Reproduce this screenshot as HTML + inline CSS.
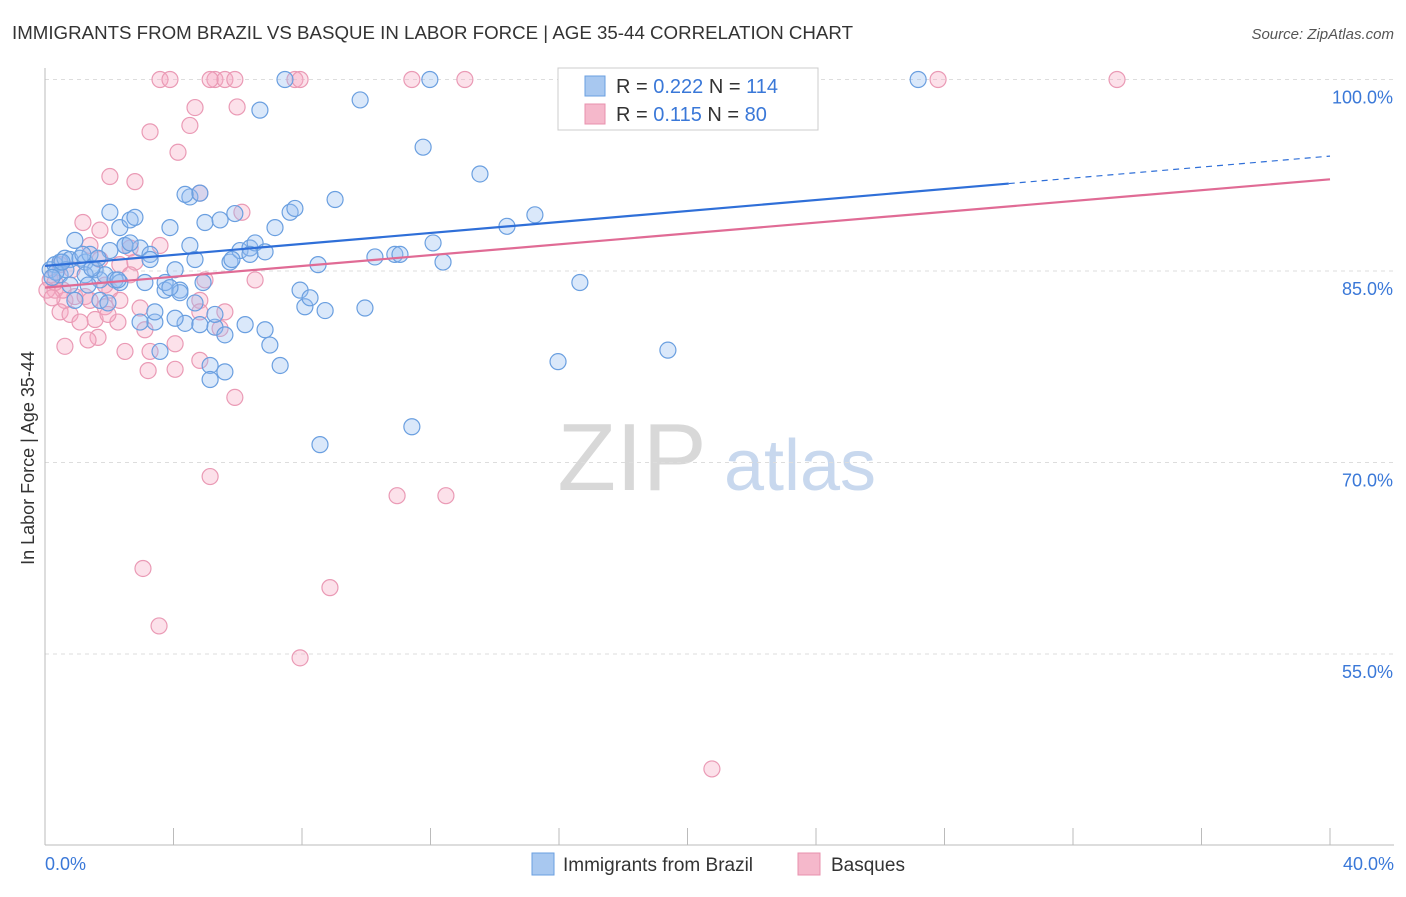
<!DOCTYPE html>
<html><head><meta charset="utf-8"><style>
body{margin:0;background:#fff;font-family:"Liberation Sans",sans-serif;}
svg text{font-family:"Liberation Sans",sans-serif;}
</style></head><body>
<svg id="chart" width="1406" height="892">
<text x="12" y="39" font-size="18" fill="#333" textLength="841" lengthAdjust="spacingAndGlyphs">IMMIGRANTS FROM BRAZIL VS BASQUE IN LABOR FORCE | AGE 35-44 CORRELATION CHART</text>
<text x="1394" y="39" font-size="15" fill="#555" font-style="italic" text-anchor="end">Source: ZipAtlas.com</text>
<text x="34" y="458" font-size="18" fill="#333" transform="rotate(-90 34 458)" text-anchor="middle">In Labor Force | Age 35-44</text>
<g><text x="632" y="490" font-size="96" font-family="Liberation Serif" fill="#d8d8d8" text-anchor="middle">ZIP</text><text x="800" y="490" font-size="72" fill="#c8d8ee" text-anchor="middle">atlas</text></g>
<g id="grid"></g><g id="ticks"></g><g id="pts"></g><g id="trend"></g>
<g>
<rect x="558" y="68" width="260" height="62" fill="#fff" stroke="#ccc"/>
<rect x="585" y="76" width="20" height="20" fill="#a8c8f0" stroke="#6a9fe0"/>
<rect x="585" y="104" width="20" height="20" fill="#f5b8cb" stroke="#e890ae"/>
<text x="616" y="93" font-size="20" fill="#333">R = <tspan fill="#3a78d8">0.222</tspan>   N = <tspan fill="#3a78d8">114</tspan></text>
<text x="616" y="121" font-size="20" fill="#333">R =  <tspan fill="#3a78d8">0.115</tspan>   N =  <tspan fill="#3a78d8">80</tspan></text>
</g>
<g>
<rect x="532" y="853" width="22" height="22" fill="#a8c8f0" stroke="#6a9fe0"/>
<text x="563" y="871" font-size="19" fill="#333">Immigrants from Brazil</text>
<rect x="798" y="853" width="22" height="22" fill="#f5b8cb" stroke="#e890ae"/>
<text x="831" y="871" font-size="19" fill="#333">Basques</text>
</g>
</svg>
<script>
const yTicks=[100,85,70,55];
const xTickLabels=["0.0%","40.0%"];
const blueX=[0.16,0.31,0.47,0.62,0.78,0.93,1.09,1.25,1.40,1.56,1.71,1.87,2.02,2.18,2.33,2.49,2.65,2.80,2.96,3.27,3.42,3.58,3.74,3.89,4.05,4.20,4.36,4.51,4.51,4.67,4.82,4.98,5.14,5.14,5.29,5.45,5.60,5.76,5.91,6.07,6.23,6.38,6.54,6.69,6.85,7.00,6.85,7.16,7.32,7.47,7.63,7.78,7.94,8.09,8.25,8.50,8.56,8.72,9.03,9.81,9.96,10.27,10.89,11.05,11.42,11.77,11.98,12.08,12.39,13.54,14.38,15.25,15.97,16.65,19.39,21.01,27.18,0.47,0.78,1.25,1.46,1.71,1.96,2.33,2.49,2.96,3.11,3.27,3.74,4.05,4.20,4.67,4.82,4.92,5.29,5.60,5.82,3.89,3.42,2.65,2.27,2.02,1.65,1.18,0.93,0.65,0.34,0.22,0.53,1.34,6.38,4.36];
const blueY=[85.1,85.5,85.7,86.0,85.9,87.4,86.0,85.7,86.3,85.1,84.3,84.7,89.6,84.3,88.4,87.0,89.0,89.2,86.8,86.3,81.0,78.7,83.5,88.4,85.1,83.5,80.9,87.0,90.8,85.9,91.1,88.8,77.6,76.5,80.6,89.0,77.1,85.7,89.5,86.6,80.8,86.8,87.2,97.6,80.4,79.2,86.5,88.4,77.6,100,89.6,89.9,83.5,82.2,82.9,85.5,71.4,81.9,90.6,98.4,82.1,86.1,86.3,86.3,72.8,94.7,100,87.2,85.7,92.6,88.5,89.4,77.9,84.1,78.8,100,100,84.7,83.9,84.7,85.2,82.7,82.5,84.1,87.0,81.0,84.1,85.9,84.1,81.3,83.3,82.5,80.8,84.1,81.6,80.0,85.9,83.7,81.8,87.2,84.3,86.6,86.0,86.3,82.7,85.1,84.9,84.5,85.7,83.9,86.3,91.0];
const pinkX=[3.58,3.89,5.29,5.60,5.91,7.78,7.94,11.42,13.07,27.80,33.37,5.14,4.67,4.51,5.98,3.27,4.14,2.02,2.80,4.82,6.13,1.18,1.71,1.40,2.65,3.58,2.33,2.80,0.47,0.16,0.31,0.62,0.93,1.25,1.56,1.87,2.02,2.33,0.47,0.78,1.65,1.34,0.62,2.49,3.27,4.05,3.21,5.91,5.14,2.96,3.11,4.82,4.98,5.60,5.45,6.54,2.27,1.96,4.82,3.05,3.55,8.87,7.94,20.76,10.96,12.48,0.56,0.31,0.06,0.84,1.09,1.40,1.71,2.65,4.82,1.87,0.22,4.05];
const pinkY=[100,100,100,100,100,100,100,100,100,100,100,100,97.8,96.4,97.85,95.9,94.3,92.4,92.0,91.1,89.6,88.8,88.2,87.0,86.8,87.0,85.5,85.7,85.5,84.3,83.5,82.7,83.0,83.0,81.2,82.2,83.5,82.7,81.8,81.6,79.8,79.6,79.1,78.7,78.7,77.3,77.2,75.1,68.9,82.1,80.4,82.7,84.3,81.8,80.5,84.3,81.0,81.6,81.8,61.7,57.2,60.2,54.7,46.0,67.4,67.4,83.5,84.1,83.5,85.1,81.0,82.7,85.9,84.7,78.0,83.9,82.9,79.3];
const blueTrend=[85.4,0.215], pinkTrend=[83.7,0.212];
const X=v=>45+v/40*1285, Y=v=>79.5+(100-v)*12.767;
const NS="http://www.w3.org/2000/svg";
function mk(t,a,p){const e=document.createElementNS(NS,t);for(const k in a)e.setAttribute(k,a[k]);p.appendChild(e);return e;}
const grid=document.getElementById('grid');
yTicks.forEach(t=>{
 const l=mk('line',{x1:45,x2:1394,y1:Y(t),y2:Y(t),stroke:'#ddd','stroke-dasharray':'4,4'},grid);
 
 
 const tx=mk('text',{x:1393,y:Y(t)+24,'font-size':18,fill:'#3a78d8','text-anchor':'end'},grid);
 tx.textContent=t.toFixed(1)+'%';
 
 
});
const tk=document.getElementById('ticks');
mk('line',{x1:45,x2:45,y1:68,y2:845,stroke:'#bbb'},tk);
mk('line',{x1:45,x2:1394,y1:845,y2:845,stroke:'#bbb'},tk);
for(let i=0;i<=10;i++){mk('line',{x1:X(i*4),x2:X(i*4),y1:828,y2:845,stroke:'#bbb'},tk);}
[[0,45,'start'],[1,1394,'end']].forEach(([i,x,a])=>{
 const t=mk('text',{x:x,y:870,'font-size':18,fill:'#3a78d8','text-anchor':a},tk);
 t.textContent=xTickLabels[i];
 
 
});
const pts=document.getElementById('pts');
pinkX.forEach((x,i)=>{
 const c=mk('circle',{cx:X(x),cy:Y(pinkY[i]),r:8,fill:'rgba(245,170,195,0.35)',stroke:'#ea9ab5','stroke-width':1.2},pts);
 
 
});
blueX.forEach((x,i)=>{
 const c=mk('circle',{cx:X(x),cy:Y(blueY[i]),r:8,fill:'rgba(150,190,240,0.35)',stroke:'#6a9fe0','stroke-width':1.2},pts);
 
 
});
const tr=document.getElementById('trend');
const bl=mk('line',{x1:X(0),y1:Y(blueTrend[0]),x2:X(30),y2:Y(blueTrend[0]+30*blueTrend[1]),stroke:'#2f6fd8','stroke-width':2.2},tr);


const bd=mk('line',{x1:X(30),y1:Y(blueTrend[0]+30*blueTrend[1]),x2:X(40),y2:Y(blueTrend[0]+40*blueTrend[1]),stroke:'#2f6fd8','stroke-width':1.2,'stroke-dasharray':'6,5'},tr);


const pl=mk('line',{x1:X(0),y1:Y(pinkTrend[0]),x2:X(40),y2:Y(pinkTrend[0]+40*pinkTrend[1]),stroke:'#e06b95','stroke-width':2.2},tr);


</script>
</body></html>
